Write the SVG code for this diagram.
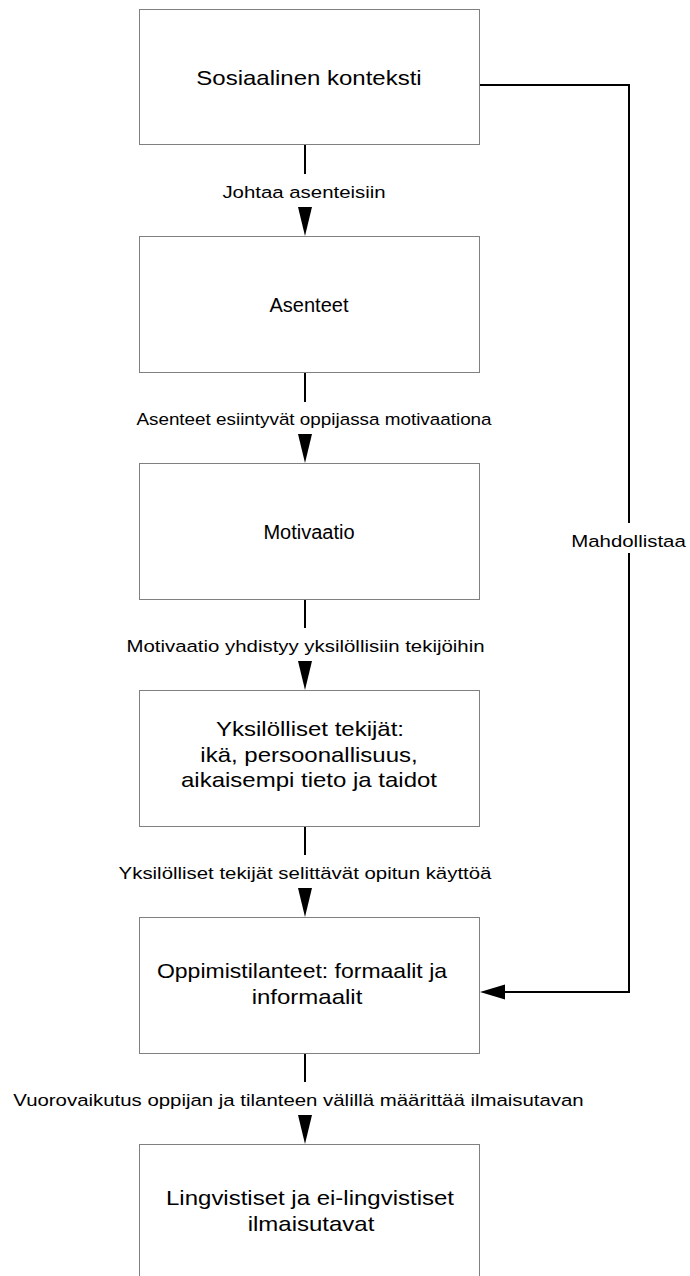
<svg xmlns="http://www.w3.org/2000/svg" xmlns:xlink="http://www.w3.org/1999/xlink" width="690" height="1276" viewBox="0 0 690 1276">
  <style>
    .box { fill: #ffffff; stroke: #808080; stroke-width: 1; }
    .conn { fill: none; stroke: #000000; stroke-width: 2; }
    .head { fill: #000000; stroke: none; }
    text { font-family: "Liberation Sans", Arial, sans-serif; fill: #000000; text-anchor: middle; }
    .bt { font-size: 20px; }
    .lt { font-size: 17px; }
  </style>
  <defs>
    <!-- arrowheads, tip at the origin -->
    <path id="ah-down" class="head" d="M-7,-29 L7,-29 L0,0 Z"/>
    <path id="ah-left" class="head" d="M0,0 L25,-7.5 L25,7.5 Z"/>
  </defs>

  <rect width="690" height="1276" fill="#ffffff"/>

  <!-- connectors -->
  <g id="connectors">
    <path class="conn" d="M305,145 V174 M305,207 V228"/>
    <use xlink:href="#ah-down" x="305" y="236"/>
    <text class="lt" transform="translate(304 198) scale(1.2 1)">Johtaa asenteisiin</text>

    <path class="conn" d="M305,372 V402 M305,434 V455"/>
    <use xlink:href="#ah-down" x="305" y="463"/>
    <text class="lt" transform="translate(314 425) scale(1.11 1)">Asenteet esiintyvät oppijassa motivaationa</text>

    <path class="conn" d="M305,599 V628 M305,661 V682"/>
    <use xlink:href="#ah-down" x="305" y="690"/>
    <text class="lt" transform="translate(305.5 652) scale(1.2 1)">Motivaatio yhdistyy yksilöllisiin tekijöihin</text>

    <path class="conn" d="M305,826 V855 M305,888 V909"/>
    <use xlink:href="#ah-down" x="305" y="917"/>
    <text class="lt" transform="translate(305 879) scale(1.2 1)">Yksilölliset tekijät selittävät opitun käyttöä</text>

    <path class="conn" d="M305,1053 V1082 M305,1115 V1136"/>
    <use xlink:href="#ah-down" x="305" y="1144"/>
    <text class="lt" transform="translate(298.5 1106) scale(1.2 1)">Vuorovaikutus oppijan ja tilanteen välillä määrittää ilmaisutavan</text>

    <!-- side link from the first box to the learning situations -->
    <path class="conn" d="M479,85 H629 V523 M629,553 V992 H500"/>
    <use xlink:href="#ah-left" x="480" y="992"/>
    <text class="lt" transform="translate(628.5 547) scale(1.2 1)">Mahdollistaa</text>
  </g>

  <!-- nodes -->
  <g id="node-sosiaalinen">
    <rect class="box" x="139.5" y="9.5" width="340" height="135"/>
    <text class="bt" transform="translate(309 85) scale(1.2 1)">Sosiaalinen konteksti</text>
  </g>
  <g id="node-asenteet">
    <rect class="box" x="139.5" y="236.5" width="340" height="136"/>
    <text class="bt" x="309" y="312">Asenteet</text>
  </g>
  <g id="node-motivaatio">
    <rect class="box" x="139.5" y="463.5" width="340" height="136"/>
    <text class="bt" x="309" y="539">Motivaatio</text>
  </g>
  <g id="node-yksilolliset">
    <rect class="box" x="139.5" y="690.5" width="340" height="136"/>
    <text class="bt" transform="translate(310 736) scale(1.2 1)">Yksilölliset tekijät:</text>
    <text class="bt" transform="translate(309 762) scale(1.2 1)">ikä, persoonallisuus,</text>
    <text class="bt" transform="translate(309 787) scale(1.2 1)">aikaisempi tieto ja taidot</text>
  </g>
  <g id="node-oppimistilanteet">
    <rect class="box" x="139.5" y="917.5" width="340" height="136"/>
    <text class="bt" transform="translate(302 978) scale(1.15 1)">Oppimistilanteet: formaalit ja</text>
    <text class="bt" transform="translate(307 1004) scale(1.2 1)">informaalit</text>
  </g>
  <g id="node-ilmaisutavat">
    <rect class="box" x="139.5" y="1144.5" width="340" height="150"/>
    <text class="bt" transform="translate(310 1205) scale(1.2 1)">Lingvistiset ja ei-lingvistiset</text>
    <text class="bt" transform="translate(311 1231) scale(1.2 1)">ilmaisutavat</text>
  </g>
</svg>
